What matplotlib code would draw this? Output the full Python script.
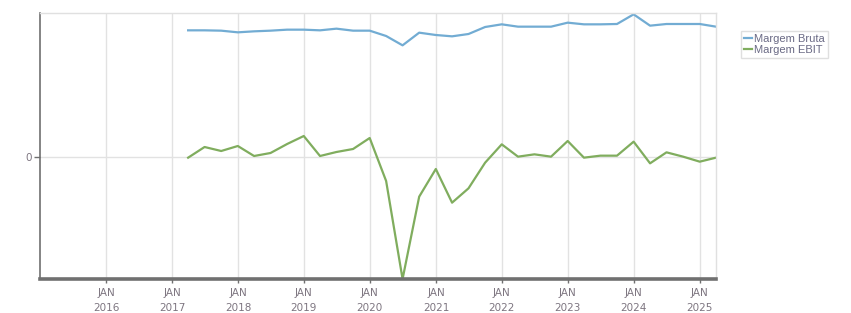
import pandas as pd
import numpy as np
import matplotlib.pyplot as plt
import matplotlib.dates as mdates

plt.rcParams.update({
    "font.family": ["DejaVu Sans"],
    "font.size": 7.5,
})

# dados trimestrais (fim de trimestre) 2017T1 - 2025T1
datas = pd.date_range("2017-03-31", "2025-03-31", freq="QE")

margem_bruta = [38.0, 38.0, 37.9, 37.4, 37.7, 37.9, 38.2, 38.2,
                38.0, 38.5, 37.9, 37.9, 36.3, 33.5, 37.3, 36.6,
                36.2, 36.9, 39.0, 39.8, 39.1, 39.1, 39.1, 40.3,
                39.8, 39.8, 39.9, 42.8, 39.4, 39.9, 39.9, 39.9,
                39.1]

margem_ebit = [-0.2, 3.0, 1.8, 3.3, 0.3, 1.2, 3.9, 6.3,
               0.3, 1.5, 2.4, 5.7, -7.2, -36.6, -11.9, -3.6,
               -13.7, -9.4, -1.7, 3.8, 0.1, 0.8, 0.1, 4.8,
               -0.2, 0.4, 0.4, 4.6, -1.9, 1.4, 0.1, -1.4,
               -0.2]

anos = list(range(2016, 2026))
rotulos_x = [f"JAN\n{a}" for a in anos]

cor_bruta = "#72acd3"
cor_ebit = "#80ad5e"
cor_texto = "#7d7580"

fig = plt.figure(figsize=(8.51, 3.13), dpi=100)
ax = fig.add_axes([40 / 851, 1 - 279 / 313, (716 - 40) / 851, (279 - 13) / 313])

ax.plot(datas, margem_bruta, color=cor_bruta, linewidth=1.6, label="Margem Bruta")
ax.plot(datas, margem_ebit, color=cor_ebit, linewidth=1.6, label="Margem EBIT")

ax.set_xlim(pd.Timestamp("2015-01-01"), datas[-1])
ax.set_ylim(min(margem_ebit), 43.2)

ax.set_xticks([pd.Timestamp(f"{a}-01-01") for a in anos])
ax.set_xticklabels(rotulos_x, color=cor_texto, fontsize=7.5, linespacing=1.6)
ax.set_yticks([0])
ax.set_yticklabels(["0"], color=cor_texto, fontsize=7.5)

ax.grid(True, color="#e2e2e2", linewidth=1)
ax.set_axisbelow(True)

ax.tick_params(axis="x", length=3, width=1, color="#707070", pad=3.5)
ax.tick_params(axis="y", length=4, width=1, color="#707070", pad=2)

for lado in ["top", "right"]:
    ax.spines[lado].set_color("#e0e0e0")
    ax.spines[lado].set_linewidth(1)
ax.spines["left"].set_color("#707070")
ax.spines["left"].set_linewidth(1.2)
ax.spines["bottom"].set_color("#707070")
ax.spines["bottom"].set_linewidth(2.6)

leg = fig.legend(
    loc="upper left",
    bbox_to_anchor=(735 / 851, 1 - 25 / 313),
    frameon=True,
    fancybox=False,
    handlelength=0.7,
    handletextpad=0.2,
    borderpad=0.3,
    labelspacing=0.1,
    prop={"family": "Liberation Sans", "size": 8},
    edgecolor="#d8d8d8",
)
leg.get_frame().set_linewidth(1)
for t in leg.get_texts():
    t.set_color("#6a6a85")

plt.savefig("out.png", dpi=100)
